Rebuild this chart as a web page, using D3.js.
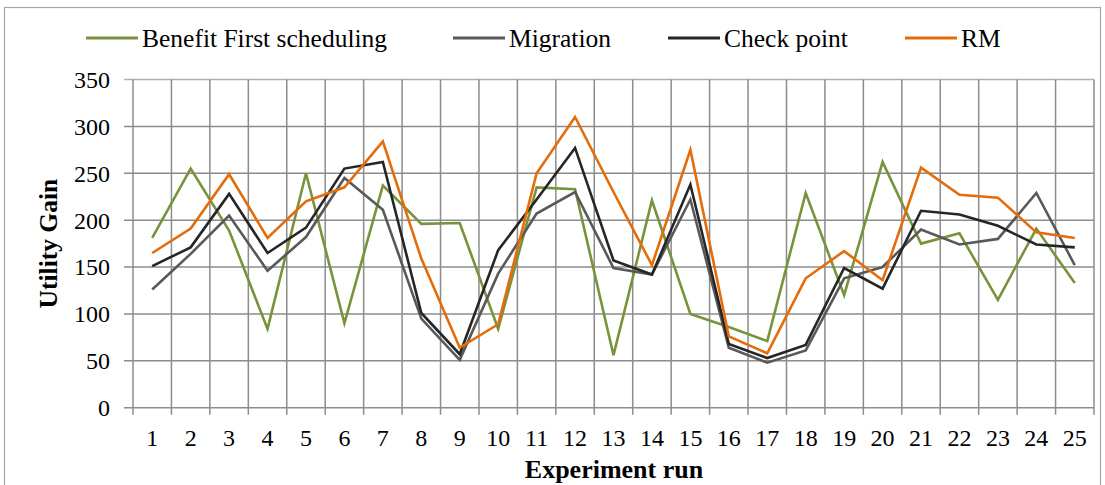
<!DOCTYPE html>
<html>
<head>
<meta charset="utf-8">
<script src="https://cdn.jsdelivr.net/npm/d3@7"></script>
<style>
  html, body { margin: 0; padding: 0; background: #fff; }
  svg { display: block; }
  text { font-family: "Liberation Serif", "Times New Roman", serif; fill: #000; }
</style>
</head>
<body>
<svg id="chart" width="1105" height="485"></svg>
<script>
const categories = ["1","2","3","4","5","6","7","8","9","10","11","12","13","14","15","16","17","18","19","20","21","22","23","24","25"];
const seriesNames = ["Benefit First scheduling", "Migration", "Check point", "RM"];
const benefitFirst = [181, 255, 189, 84, 250, 90, 237, 196, 197, 84, 235, 233, 56, 221, 100, 86, 71, 229, 120, 262, 175, 186, 115, 191, 133];
const migration    = [126, 164, 205, 146, 182, 245, 211, 95, 51, 143, 207, 230, 149, 142, 222, 64, 48, 61, 138, 150, 190, 174, 180, 229, 152];
const checkPoint   = [151, 171, 228, 165, 192, 255, 262, 101, 57, 168, 222, 277, 157, 142, 238, 68, 53, 67, 149, 127, 210, 206, 194, 174, 171];
const rm           = [165, 191, 249, 181, 220, 235, 284, 159, 64, 89, 250, 310, 230, 152, 275, 76, 58, 138, 167, 136, 256, 227, 224, 187, 181];
const yTicks = [0, 50, 100, 150, 200, 250, 300, 350];
const colors = ["#77933C", "#595959", "#262626", "#E46C0A"];

const seriesData = [benefitFirst, migration, checkPoint, rm];

const svg = d3.select("#chart");
const plot = { left: 133, right: 1094, top: 79.5, bottom: 407.7 };

// outer frame
svg.append("rect")
  .attr("x", 4.5).attr("y", 7.5)
  .attr("width", 1096).attr("height", 520)
  .attr("fill", "none").attr("stroke", "#a6a6a6").attr("stroke-width", 1.2);

const x = d3.scaleBand().domain(categories).range([plot.left, plot.right]).padding(0);
const y = d3.scaleLinear().domain([0, 350]).range([plot.bottom, plot.top]);

const gridColor = "#8c8c8c";

// horizontal gridlines
svg.append("g").selectAll("line").data(yTicks).join("line")
  .attr("x1", plot.left - 9).attr("x2", plot.right)
  .attr("y1", d => y(d)).attr("y2", d => y(d))
  .attr("stroke", d => d === 350 ? "#b0b0b0" : gridColor).attr("stroke-width", 1.5);

// vertical gridlines at category boundaries
const bounds = categories.map(c => x(c)).concat([x(categories[categories.length - 1]) + x.bandwidth()]);
svg.append("g").selectAll("line").data(bounds).join("line")
  .attr("x1", d => d).attr("x2", d => d)
  .attr("y1", plot.top).attr("y2", plot.bottom + 7)
  .attr("stroke", gridColor).attr("stroke-width", 1.5);

// y tick labels
svg.append("g").selectAll("text").data(yTicks).join("text")
  .attr("x", 110).attr("y", d => y(d))
  .attr("dy", "0.35em")
  .attr("text-anchor", "end")
  .attr("font-size", 24)
  .text(d => d);

// x tick labels
svg.append("g").selectAll("text").data(categories).join("text")
  .attr("x", d => x(d) + x.bandwidth() / 2).attr("y", 446)
  .attr("text-anchor", "middle")
  .attr("font-size", 24)
  .text(d => d);

// axis titles
svg.append("text")
  .attr("transform", `translate(57, ${(plot.top + plot.bottom) / 2}) rotate(-90)`)
  .attr("text-anchor", "middle")
  .attr("font-size", 25.5).attr("font-weight", "bold")
  .text("Utility Gain");

svg.append("text")
  .attr("x", 614).attr("y", 478)
  .attr("text-anchor", "middle")
  .attr("font-size", 26).attr("font-weight", "bold")
  .text("Experiment run");

// lines
const line = d3.line()
  .x((d, i) => x(categories[i]) + x.bandwidth() / 2)
  .y(d => y(d));

svg.append("g").selectAll("path").data(seriesData).join("path")
  .attr("d", d => line(d))
  .attr("fill", "none")
  .attr("stroke", (d, i) => colors[i])
  .attr("stroke-width", 2.6)
  .attr("stroke-linejoin", "miter");

// legend
const legendItems = [
  { name: seriesNames[0], x: 86 },
  { name: seriesNames[1], x: 453 },
  { name: seriesNames[2], x: 668 },
  { name: seriesNames[3], x: 905 }
];
const lg = svg.append("g").selectAll("g").data(legendItems).join("g")
  .attr("transform", d => `translate(${d.x}, 38)`);
lg.append("line")
  .attr("x1", 0).attr("x2", 52).attr("y1", 0).attr("y2", 0)
  .attr("stroke", (d, i) => colors[i]).attr("stroke-width", 3);
lg.append("text")
  .attr("x", 56).attr("y", 0).attr("dy", "0.35em")
  .attr("font-size", 25.5)
  .text(d => d.name);
</script>
</body>
</html>
